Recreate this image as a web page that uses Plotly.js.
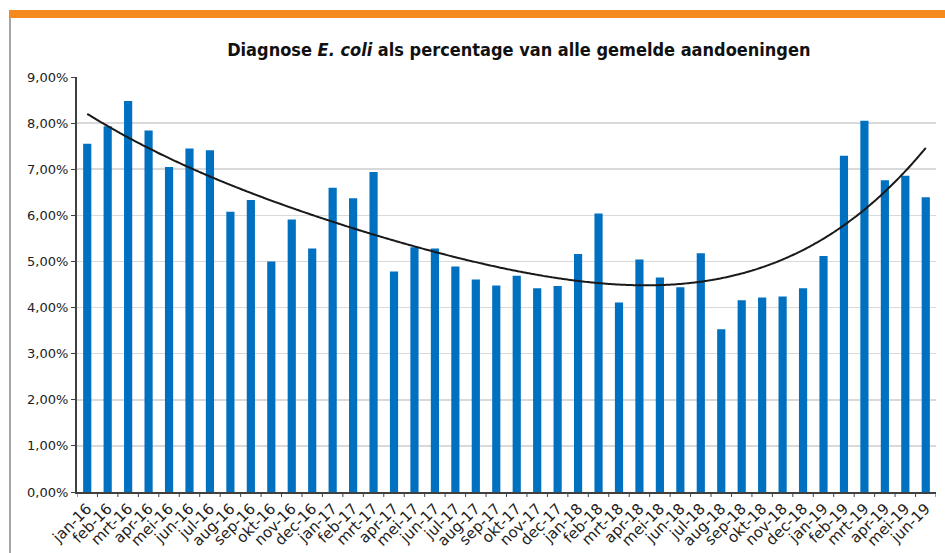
<!DOCTYPE html>
<html>
<head>
<meta charset="utf-8">
<script src="https://cdn.plot.ly/plotly-3.0.1.min.js"></script>
<style>
  html, body { margin: 0; padding: 0; background: #fff; }
  #wrap { position: relative; width: 945px; height: 553px; overflow: hidden; }
  #band { position: absolute; left: 9px; top: 10px; width: 936px; height: 8px; background: #F58A1F; z-index: 2; }
  #edge { position: absolute; left: 9px; top: 18px; width: 2px; height: 535px; background: #a6a6a6; z-index: 2; }
  #chart { position: absolute; left: 0; top: 0; width: 945px; height: 553px; }
</style>
</head>
<body>
<div id="wrap">
  <div id="chart"></div>
  <div id="band"></div>
  <div id="edge"></div>
</div>
<script>
const months = [
  "jan-16","feb-16","mrt-16","apr-16","mei-16","jun-16","jul-16","aug-16","sep-16","okt-16","nov-16","dec-16",
  "jan-17","feb-17","mrt-17","apr-17","mei-17","jun-17","jul-17","aug-17","sep-17","okt-17","nov-17","dec-17",
  "jan-18","feb-18","mrt-18","apr-18","mei-18","jun-18","jul-18","aug-18","sep-18","okt-18","nov-18","dec-18",
  "jan-19","feb-19","mrt-19","apr-19","mei-19","jun-19"
];
const ecoliPct = [
  7.55, 7.93, 8.48, 7.84, 7.05, 7.45, 7.41, 6.08, 6.33, 5.00, 5.91, 5.28,
  6.60, 6.37, 6.94, 4.78, 5.31, 5.28, 4.89, 4.61, 4.48, 4.69, 4.42, 4.47,
  5.16, 6.04, 4.11, 5.04, 4.65, 4.44, 5.18, 3.53, 4.16, 4.22, 4.24, 4.42,
  5.12, 7.29, 8.05, 6.76, 6.86, 6.39
];
const yTicks = [0,1,2,3,4,5,6,7,8,9];
const trendOrder = 4;

// least-squares polynomial trendline (like Excel's polynomial trendline)
function polyfit(xs, ys, order) {
  const n = order + 1;
  const A = Array.from({length: n}, () => new Array(n + 1).fill(0));
  for (let k = 0; k < xs.length; k++) {
    const p = [];
    for (let i = 0; i < n; i++) p.push(Math.pow(xs[k], i));
    for (let i = 0; i < n; i++) {
      for (let j = 0; j < n; j++) A[i][j] += p[i] * p[j];
      A[i][n] += p[i] * ys[k];
    }
  }
  for (let i = 0; i < n; i++) {
    let m = i;
    for (let r = i + 1; r < n; r++) if (Math.abs(A[r][i]) > Math.abs(A[m][i])) m = r;
    [A[i], A[m]] = [A[m], A[i]];
    for (let r = 0; r < n; r++) {
      if (r === i) continue;
      const f = A[r][i] / A[i][i];
      for (let c = i; c <= n; c++) A[r][c] -= f * A[i][c];
    }
  }
  return A.map((row, i) => row[n] / row[i]);
}
const xIdx = months.map((_, i) => (i + 1) / 10);
const coef = polyfit(xIdx, ecoliPct, trendOrder);
const trendX = [], trendY = [];
for (let t = 1; t <= months.length + 1e-9; t += 0.1) {
  trendX.push(t - 1);
  trendY.push(coef.reduce((s, c, i) => s + c * Math.pow(t / 10, i), 0));
}

const bars = {
  type: 'bar',
  x: months.map((_, i) => i),
  y: ecoliPct,
  marker: { color: '#0070C0' },
  hoverinfo: 'skip'
};
const trend = {
  type: 'scatter',
  mode: 'lines',
  x: trendX,
  y: trendY,
  line: { color: '#1a1a1a', width: 2, shape: 'spline' },
  hoverinfo: 'skip'
};

const tickShapes = [];
for (let i = -1; i < months.length; i++) {
  tickShapes.push({
    type: 'line', xref: 'x', yref: 'paper',
    x0: i + 0.5, x1: i + 0.5, y0: 0, y1: -0.012,
    line: { color: '#404040', width: 1 }
  });
}

const layout = {
  width: 945, height: 553,
  margin: { l: 77, r: 9, t: 77, b: 61, pad: 0 },
  paper_bgcolor: '#ffffff',
  plot_bgcolor: '#ffffff',
  showlegend: false,
  bargap: 0.6,
  font: { family: 'DejaVu Sans, Verdana, sans-serif', size: 12, color: '#222' },
  title: {
    text: '<b>Diagnose <i>E. coli</i> als percentage van alle gemelde aandoeningen</b>',
    font: { family: 'DejaVu Sans Condensed, DejaVu Sans, sans-serif', size: 18, color: '#111' },
    xref: 'container', yref: 'container',
    x: 0.549, xanchor: 'center',
    y: 1 - 50/553, yanchor: 'middle'
  },
  xaxis: {
    type: 'linear',
    range: [-0.5, months.length - 0.5],
    tickmode: 'array',
    tickvals: months.map((_, i) => i),
    ticktext: months,
    tickangle: -45,
    ticks: '',
    showline: true, linecolor: '#404040', linewidth: 2,
    showgrid: false, zeroline: false,
    tickfont: { size: 15, color: '#222' }
  },
  yaxis: {
    range: [0, 9],
    tickmode: 'array',
    tickvals: yTicks,
    ticktext: yTicks.map(v => v.toFixed(2).replace('.', ',') + '%'),
    ticks: 'outside', ticklen: 4, tickcolor: '#404040',
    showline: true, linecolor: '#404040', linewidth: 2,
    showgrid: true, gridcolor: '#d9d9d9', gridwidth: 1.5,
    zeroline: false,
    tickfont: { size: 13, color: '#222' }
  },
  shapes: tickShapes
};

Plotly.newPlot('chart', [bars, trend], layout, { displayModeBar: false, staticPlot: true });
</script>
</body>
</html>
